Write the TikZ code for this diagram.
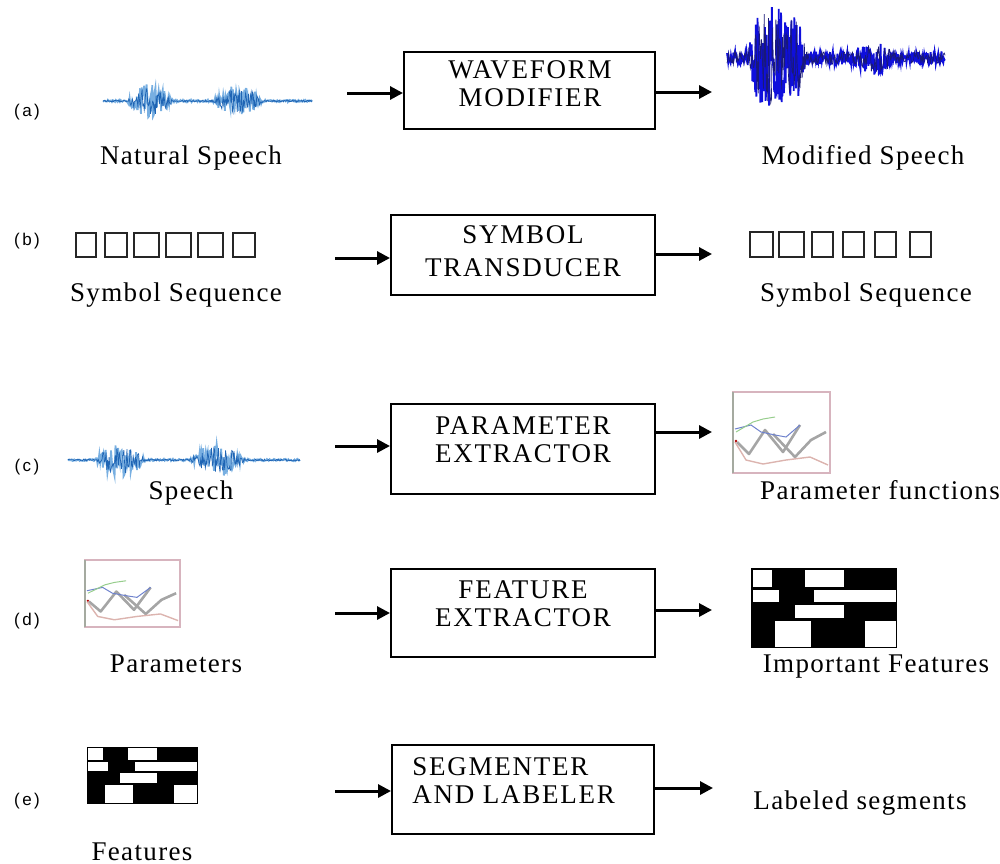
\documentclass[tikz,border=0pt]{standalone}
\usepackage{fontspec}
\setmainfont{Liberation Serif}[LetterSpace=5]
\newfontfamily\boxfont{Liberation Serif}[LetterSpace=6.5]
\newfontfamily\tagfont{Liberation Sans}[LetterSpace=14]
\usetikzlibrary{arrows.meta}

\definecolor{wavelight}{RGB}{120,175,225}
\definecolor{wavedark}{RGB}{30,100,180}
\definecolor{modblue}{RGB}{15,15,220}
\definecolor{modnavy}{RGB}{25,25,120}
\definecolor{plotframe}{RGB}{215,180,190}
\definecolor{plotedge}{RGB}{165,170,160}
\definecolor{plotgrey}{RGB}{165,165,165}
\definecolor{plotblue}{RGB}{110,130,205}
\definecolor{plotgreen}{RGB}{150,205,140}
\definecolor{plotpink}{RGB}{220,180,175}

\tikzset{
  procbox/.style={draw, line width=1pt, inner sep=0pt},
  boxtext/.style={inner sep=0pt, align=center, font=\boxfont\fontsize{13.5}{14}\selectfont},
  caption/.style={inner sep=0pt, anchor=base, font=\fontsize{13.5}{14}\selectfont},
  tag/.style={inner sep=0pt, font=\tagfont\fontsize{8.5}{10}\selectfont},
  flow/.style={line width=1.5pt, -{Triangle[length=6.5pt,width=6.5pt]}},
  symsq/.style={draw=black!85, line width=1.1pt},
  % spoken-word waveform with two voiced bursts, drawn about y = 0
  speechwave/.pic={
    \draw[wavelight, line width=0.9pt]
      plot[domain=0:209, samples=260, variable=\t] (\t,{envA(\t)*rand});
    \draw[wavedark, line width=0.35pt]
      plot[domain=0:209, samples=300, variable=\t] (\t,{0.8*envA(\t)*rand});
  },
  % small plot of several parameter tracks in a frame
  parplot/.pic={
    \draw[plotgrey, line width=1.3pt, line join=round]
      (4,50) -- (16,62) -- (32,38) -- (50,60) -- (67,33);
    \draw[plotgrey, line width=1.3pt, line join=round]
      (40,42) -- (62,65) -- (78,48) -- (93,40);
    \draw[plotblue, line width=0.5pt]
      (2,37) -- (18,33) -- (28,40) -- (42,43) -- (53,45) -- (67,33);
    \draw[plotgreen, line width=0.5pt]
      (3,40) -- (20,30) -- (30,27) -- (42,25);
    \draw[plotpink, line width=0.7pt]
      (2,50) -- (13,68) -- (30,72) -- (53,68) -- (77,65) -- (95,73);
    \fill[red!70!black] (3,49) circle (1.3);
    \draw[plotframe, line width=0.9pt] (0,0) rectangle (97,81);
    \draw[plotedge, line width=0.9pt] (0,0) -- (0,81);
  },
  % black feature map with white cells
  featgrid/.pic={
    \fill[black] (0,0) rectangle (146,80);
    \fill[white] (1.5,1.5) rectangle (21,18.5);
    \fill[white] (53.5,1.5) rectangle (92.5,18.5);
    \fill[white] (1.5,21.5) rectangle (28,33.5);
    \fill[white] (62.5,21.5) rectangle (144.5,33.5);
    \fill[white] (43.5,36.5) rectangle (92.5,50);
    \fill[white] (23.5,53) rectangle (60,78.5);
    \fill[white] (114,53) rectangle (144.5,78.5);
  }
}

\begin{document}
\begin{tikzpicture}[x=0.5pt, y=-0.5pt,
  declare function={
    envA(\t)=1.2+16*max(0,1-((\t-47)/23)^2)+15*max(0,1-((\t-135)/25)^2);
    envM(\t)=7+44*max(0,1-((\t-777)/29)^4)+10*max(0,1-((\t-874)/20)^2);
  }]
\useasboundingbox (0,0) rectangle (1000,863);
\pgfmathsetseed{4242}

% row tags
\node[tag] (ta) at (27,112) {(a)};
\node[tag] (tb) at (27,241) {(b)};
\node[tag] (tc) at (27,467) {(c)};
\node[tag] (td) at (27,621) {(d)};
\node[tag] (te) at (27,801) {(e)};

% ---------- (a) waveform modifier ----------
\pic at (103,101) {speechwave};
\node[caption] (natl) at (191,164) {Natural Speech};
\node[procbox, minimum width=125.5pt, minimum height=38.5pt] (wm) at (529.5,90.5) {};
\node[boxtext] (wmtxt) at (530,84) {WAVEFORM\\MODIFIER};
\draw[modblue, line width=0.9pt]
  plot[domain=727:945, samples=380, variable=\t] (\t,{58+envM(\t)*rand});
\draw[modnavy, line width=0.35pt]
  plot[domain=727:945, samples=300, variable=\t] (\t,{58+0.9*envM(\t)*rand});
\node[caption] (modl) at (863,164) {Modified Speech};
\coordinate (ain) at (347,93);
\coordinate (aout) at (712,92);
\draw[flow] (ain) -- (ain -| wm.west);
\draw[flow] (aout -| wm.east) -- (aout);

% ---------- (b) symbol transducer ----------
\foreach \x/\w in {76/20,105/22,134/25,166/25,198/25,233/22}
  \draw[symsq] (\x,233) rectangle ++(\w,24);
\node[caption] (syml) at (176,301) {Symbol Sequence};
\node[procbox, minimum width=132pt, minimum height=40pt] (st) at (523,255) {};
\node[boxtext, font=\boxfont\fontsize{13.5}{16.5}\selectfont] (sttxt) at (523,251) {SYMBOL\\TRANSDUCER};
\foreach \x/\w in {750/23,779/25,812/21,843/21,875/21,910/21}
  \draw[symsq] (\x,232) rectangle ++(\w,25);
\node[caption] (symr) at (866,301) {Symbol Sequence};
\coordinate (bin) at (335,258);
\coordinate (bout) at (712,254);
\draw[flow] (bin) -- (bin -| st.west);
\draw[flow] (bout -| st.east) -- (bout);

% ---------- (c) parameter extractor ----------
\pic[xscale=1.11] at (68,460) {speechwave};
\node[caption] (spl) at (191,499) {Speech};
\node[procbox, minimum width=132pt, minimum height=45pt] (pe) at (523,449) {};
\node[boxtext] (petxt) at (523,440) {PARAMETER\\EXTRACTOR};
\pic at (733,392) {parplot};
\node[caption] (pfl) at (880,499) {Parameter functions};
\coordinate (cin) at (335,446);
\coordinate (cout) at (712,432);
\draw[flow] (cin) -- (cin -| pe.west);
\draw[flow] (cout -| pe.east) -- (cout);

% ---------- (d) feature extractor ----------
\pic[xscale=0.98, yscale=0.83] at (85,560) {parplot};
\node[caption] (parl) at (176,672) {Parameters};
\node[procbox, minimum width=132pt, minimum height=44pt] (fe) at (523,613) {};
\node[boxtext] (fetxt) at (523,603.5) {FEATURE\\EXTRACTOR};
\pic at (751,568) {featgrid};
\node[caption] (ifl) at (876,672) {Important Features};
\coordinate (din) at (335,613);
\coordinate (dout) at (712,610);
\draw[flow] (din) -- (din -| fe.west);
\draw[flow] (dout -| fe.east) -- (dout);

% ---------- (e) segmenter and labeler ----------
\pic[xscale=0.762, yscale=0.71] at (87,747) {featgrid};
\node[caption] (ftl) at (142,860) {Features};
\node[procbox, minimum width=131pt, minimum height=44.5pt] (sl) at (523,789.5) {};
\node[boxtext, align=left, anchor=west] (sltxt) at (412,781) {SEGMENTER\\AND LABELER};
\node[caption] (lsl) at (860,809) {Labeled segments};
\coordinate (ein) at (335,791);
\coordinate (eout) at (713,788);
\draw[flow] (ein) -- (ein -| sl.west);
\draw[flow] (eout -| sl.east) -- (eout);
\end{tikzpicture}
\end{document}
